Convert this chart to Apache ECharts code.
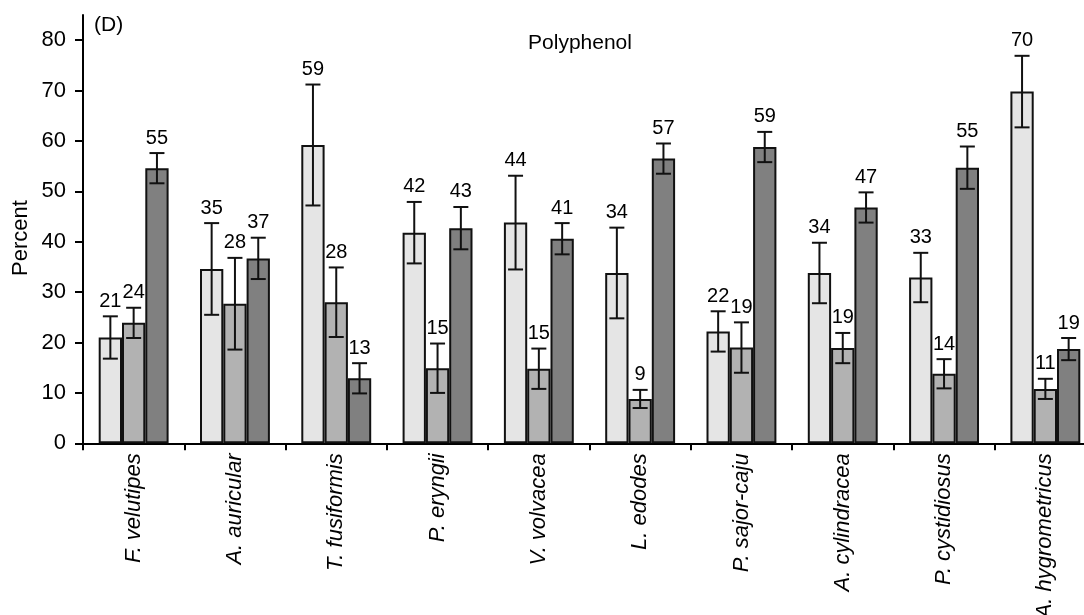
<!DOCTYPE html>
<html>
<head>
<meta charset="utf-8">
<script src="https://cdn.jsdelivr.net/npm/echarts@6/dist/echarts.min.js"></script>
<style>
html,body{margin:0;padding:0;background:#fff;}
#chart{width:1084px;height:615px;}
</style>
</head>
<body>
<div id="chart"></div>
<script>
const categories = ["F. velutipes", "A. auricular", "T. fusiformis", "P. eryngii", "V. volvacea", "L. edodes", "P. sajor-caju", "A. cylindracea", "P. cystidiosus", "A. hygrometricus"];
const lightValues = [21.0, 34.6, 59.2, 41.8, 43.8, 33.8, 22.2, 33.8, 32.9, 69.8];
const lightErrors = [4.2, 9.1, 12.0, 6.1, 9.3, 9.0, 4.0, 6.0, 4.9, 7.1];
const lightLabels = [21, 35, 59, 42, 44, 34, 22, 34, 33, 70];
const mediumValues = [23.9, 27.7, 28.0, 14.9, 14.8, 8.8, 19.0, 18.9, 13.8, 10.8];
const mediumErrors = [3.0, 9.1, 6.9, 4.9, 4.0, 1.8, 5.0, 3.0, 2.9, 2.0];
const mediumLabels = [24, 28, 28, 15, 15, 9, 19, 19, 14, 11];
const darkValues = [54.6, 36.7, 12.9, 42.7, 40.6, 56.5, 58.8, 46.8, 54.7, 18.7];
const darkErrors = [3.0, 4.1, 3.0, 4.2, 3.1, 3.0, 3.0, 3.0, 4.2, 2.2];
const darkLabels = [55, 37, 13, 43, 41, 57, 59, 47, 55, 19];
const yTicks = [0, 10, 20, 30, 40, 50, 60, 70, 80];

const FONT = '"Liberation Sans", Arial, sans-serif';
const BAR_W = 23.3;
const colors = ['#e5e5e5', '#b2b2b2', '#808080'];

const chart = echarts.init(document.getElementById('chart'), null, {renderer: 'canvas'});

function barSeries(vals, color) {
  return {
    type: 'bar',
    data: vals,
    barWidth: BAR_W,
    barGap: '0%',
    itemStyle: {color: color, borderColor: '#111', borderWidth: 2},
    z: 2,
    silent: true
  };
}

function errSeries(vals, errs, labs, idx) {
  return {
    type: 'custom',
    coordinateSystem: 'cartesian2d',
    encode: {x: 0, y: 1},
    data: vals.map((v, i) => [i, v, errs[i], labs[i]]),
    z: 10,
    silent: true,
    clip: false,
    renderItem: function (params, api) {
      const ci = api.value(0), v = api.value(1), e = api.value(2), lab = api.value(3);
      const top = api.coord([ci, v + e]);
      const bot = api.coord([ci, v - e]);
      const x = top[0] + (idx - 1) * BAR_W;
      const cap = 7.5;
      const ls = {stroke: '#111', lineWidth: 2};
      return {
        type: 'group',
        children: [
          {type: 'line', shape: {x1: x, y1: top[1], x2: x, y2: bot[1]}, style: ls},
          {type: 'line', shape: {x1: x - cap, y1: top[1], x2: x + cap, y2: top[1]}, style: ls},
          {type: 'line', shape: {x1: x - cap, y1: bot[1], x2: x + cap, y2: bot[1]}, style: ls},
          {type: 'text', x: x, y: top[1] - 5,
           style: {text: String(lab), textAlign: 'center', textVerticalAlign: 'bottom',
                   font: '20px ' + FONT, fill: '#000'}}
        ]
      };
    }
  };
}

const option = {
  backgroundColor: '#fff',
  animation: false,
  grid: {left: 83, top: 15, width: 1013, bottom: 171.7, containLabel: false, outerBoundsMode: 'none'},
  xAxis: {
    type: 'category',
    data: categories,
    boundaryGap: true,
    axisLine: {show: true, lineStyle: {color: '#000', width: 2}},
    axisTick: {show: true, length: 7, alignWithLabel: false, lineStyle: {color: '#000', width: 2}},
    axisLabel: {rotate: 90, margin: 10, interval: 0, color: '#000', fontFamily: FONT, fontSize: 22, fontStyle: 'italic'}
  },
  yAxis: {
    type: 'value',
    min: 0,
    max: 85,
    interval: 10,
    splitLine: {show: false},
    axisLine: {show: true, onZero: false, lineStyle: {color: '#000', width: 2}},
    axisTick: {show: true, length: 8, customValues: yTicks, lineStyle: {color: '#000', width: 2}},
    axisLabel: {customValues: yTicks, margin: 17, color: '#000', fontFamily: FONT, fontSize: 22}
  },
  graphic: [
    {type: 'text', left: 94, top: 15, style: {text: '(D)', font: '21px ' + FONT, fill: '#000'}},
    {type: 'text', x: 580, y: 43, style: {text: 'Polyphenol', font: '21px ' + FONT, fill: '#000', textAlign: 'center', textVerticalAlign: 'middle'}},
    {type: 'text', x: 20.5, y: 238, rotation: Math.PI / 2, style: {text: 'Percent', font: '22px ' + FONT, fill: '#000', textAlign: 'center', textVerticalAlign: 'middle'}}
  ],
  series: [
    barSeries(lightValues, colors[0]),
    barSeries(mediumValues, colors[1]),
    barSeries(darkValues, colors[2]),
    errSeries(lightValues, lightErrors, lightLabels, 0),
    errSeries(mediumValues, mediumErrors, mediumLabels, 1),
    errSeries(darkValues, darkErrors, darkLabels, 2)
  ]
};
chart.setOption(option);
</script>
</body>
</html>
